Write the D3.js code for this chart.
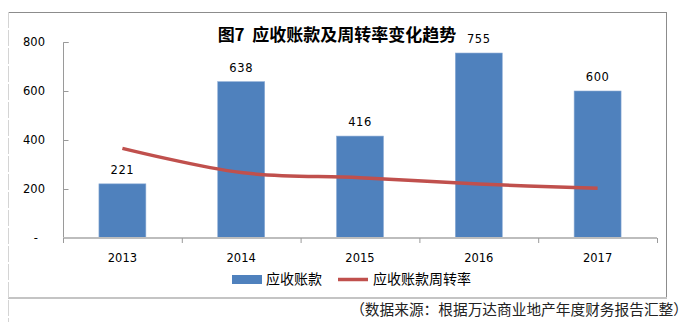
<!DOCTYPE html>
<html>
<head>
<meta charset="utf-8">
<script src="https://cdn.jsdelivr.net/npm/d3@7"></script>
<style>
  html, body { margin: 0; padding: 0; background: #fff; }
  svg { display: block; }
</style>
</head>
<body>
<svg id="chart" width="688" height="322"></svg>
<script>
// Receivables (bars) and receivables turnover (line), 2013–2017
const years = ["2013", "2014", "2015", "2016", "2017"];
const receivables = [221, 638, 416, 755, 600];
const turnover = [3.66, 2.67, 2.46, 2.20, 2.03];
const yTicks = [0, 200, 400, 600, 800];
const yTickLabels = ["-", "200", "400", "600", "800"];

const title = "图7  应收账款及周转率变化趋势";
const seriesNames = ["应收账款", "应收账款周转率"];
const sourceNote = "（数据来源：根据万达商业地产年度财务报告汇整）";

const cjk = "'Noto Sans CJK SC', 'Noto Sans', sans-serif";
const num = "'DejaVu Sans', Verdana, sans-serif";
const barColor = "#4F81BD";
const lineColor = "#C0504D";

const svg = d3.select("#chart");

// outer frame
const frame = { left: 8, top: 12, right: 666, bottom: 298 };
svg.append("line").attr("x1", frame.left).attr("x2", frame.right)
  .attr("y1", frame.top + 0.5).attr("y2", frame.top + 0.5)
  .attr("stroke", "#8c8c8c").attr("stroke-width", 1);
svg.append("line").attr("x1", frame.right + 0.5).attr("x2", frame.right + 0.5)
  .attr("y1", frame.top).attr("y2", frame.bottom)
  .attr("stroke", "#8c8c8c").attr("stroke-width", 1);
svg.append("line").attr("x1", frame.left).attr("x2", frame.right + 1)
  .attr("y1", frame.bottom).attr("y2", frame.bottom)
  .attr("stroke", "#c4c4c4").attr("stroke-width", 2);
svg.append("line").attr("x1", frame.left + 0.5).attr("x2", frame.left + 0.5)
  .attr("y1", frame.top).attr("y2", 322)
  .attr("stroke", "#d4d4d4").attr("stroke-width", 1)
  .attr("stroke-dasharray", "16,2");

// plot area
const plot = { left: 63, right: 657, top: 42, bottom: 238 };

const x = d3.scaleBand().domain(years).range([plot.left, plot.right]).padding(0);
const y = d3.scaleLinear().domain([0, 800]).range([plot.bottom, plot.top]);
const y2 = d3.scaleLinear().domain([0, 8]).range([plot.bottom, plot.top]);
const barW = x.bandwidth() * 0.395;

// y axis (ticks point inward)
const yAxis = d3.axisRight(y).tickValues(yTicks).tickSize(5).tickFormat(() => "");
const gy = svg.append("g").attr("transform", `translate(${plot.left + 0.5},0)`).call(yAxis);
gy.select(".domain").attr("stroke", "#9a9a9a").attr("stroke-width", 1)
  .attr("d", `M5,${plot.top + 0.5}H0V${plot.bottom + 4}`);
gy.selectAll(".tick line").attr("stroke", "#9a9a9a");

svg.append("g").selectAll("text").data(yTicks).join("text")
  .attr("x", (d, i) => i === 0 ? 38 : 45)
  .attr("y", d => y(d) + 4)
  .attr("text-anchor", "end")
  .attr("font-family", num).attr("font-size", "11.5px").attr("fill", "#000")
  .text((d, i) => yTickLabels[i]);

// bars
svg.append("g").selectAll("rect").data(receivables).join("rect")
  .attr("x", (d, i) => x(years[i]) + x.bandwidth() / 2 - barW / 2)
  .attr("width", barW)
  .attr("y", d => y(d))
  .attr("height", d => y(0) - y(d))
  .attr("fill", barColor)
  .attr("stroke", "#8aaad4").attr("stroke-width", 0.6);

// x axis
const xAxis = d3.axisBottom(x).tickSize(0).tickFormat(() => "");
const gx = svg.append("g").attr("transform", `translate(0,${plot.bottom})`).call(xAxis);
gx.select(".domain").attr("stroke", "#bdbdbd").attr("stroke-width", 2)
  .attr("d", `M${plot.left},0H${plot.right}`);
const bounds = years.map(d => x(d)).concat([plot.right]);
svg.append("g").selectAll("line").data(bounds).join("line")
  .attr("x1", d => d + 0.5).attr("x2", d => d + 0.5)
  .attr("y1", plot.bottom).attr("y2", plot.bottom + 5)
  .attr("stroke", "#9a9a9a").attr("stroke-width", 1);

svg.append("g").selectAll("text").data(years).join("text")
  .attr("x", d => x(d) + x.bandwidth() / 2)
  .attr("y", plot.bottom + 24)
  .attr("text-anchor", "middle")
  .attr("font-family", num).attr("font-size", "11.5px").attr("fill", "#000")
  .text(d => d);

// bar value labels
svg.append("g").selectAll("text").data(receivables).join("text")
  .attr("x", (d, i) => x(years[i]) + x.bandwidth() / 2)
  .attr("y", d => y(d) - 10)
  .attr("text-anchor", "middle")
  .attr("font-family", num).attr("font-size", "11.5px").attr("fill", "#000")
  .attr("letter-spacing", "0.6px")
  .text(d => d);

// turnover line
const line = d3.line()
  .x((d, i) => x(years[i]) + x.bandwidth() / 2)
  .y(d => y2(d))
  .curve(d3.curveCatmullRom.alpha(0.5));
svg.append("path").datum(turnover)
  .attr("d", line)
  .attr("fill", "none")
  .attr("stroke", lineColor)
  .attr("stroke-width", 3.5)
  .attr("stroke-linejoin", "round");

// title
svg.append("text")
  .attr("x", 337).attr("y", 41)
  .attr("text-anchor", "middle")
  .attr("font-family", cjk).attr("font-size", "17px").attr("font-weight", "bold")
  .attr("fill", "#000")
  .attr("xml:space", "preserve")
  .style("white-space", "pre")
  .text(title);

// legend
const lg = svg.append("g");
lg.append("rect").attr("x", 232).attr("y", 275).attr("width", 30).attr("height", 9).attr("fill", barColor);
lg.append("text").attr("x", 266).attr("y", 284)
  .attr("font-family", cjk).attr("font-size", "14px").attr("fill", "#000")
  .text(seriesNames[0]);
lg.append("line").attr("x1", 338).attr("x2", 368).attr("y1", 279.5).attr("y2", 279.5)
  .attr("stroke", lineColor).attr("stroke-width", 3.5);
lg.append("text").attr("x", 373).attr("y", 284)
  .attr("font-family", cjk).attr("font-size", "14px").attr("fill", "#000")
  .text(seriesNames[1]);

// source note
svg.append("text")
  .attr("x", 688).attr("y", 315)
  .attr("text-anchor", "end")
  .attr("font-family", cjk).attr("font-size", "14.7px").attr("fill", "#222")
  .text(sourceNote);
</script>
</body>
</html>
